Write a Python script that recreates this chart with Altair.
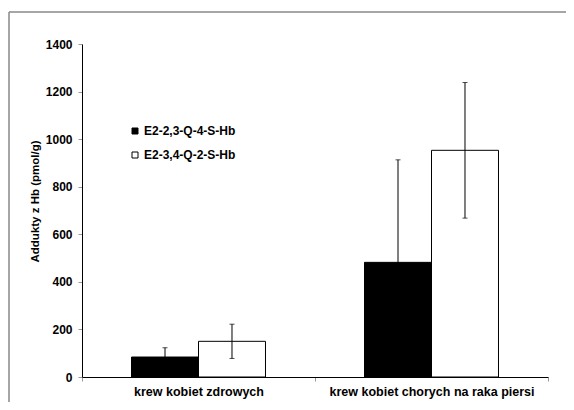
import altair as alt
import pandas as pd

categories = ["krew kobiet zdrowych", "krew kobiet chorych na raka piersi"]
series = ["E2-2,3-Q-4-S-Hb", "E2-3,4-Q-2-S-Hb"]
means_s1 = [84, 482]
means_s2 = [150, 953]
err_s1 = [39, 431]
err_s2 = [72, 285]
y_ticks = [0, 200, 400, 600, 800, 1000, 1200, 1400]

rows = []
for i, c in enumerate(categories):
    for s, m, e in ((series[0], means_s1[i], err_s1[i]), (series[1], means_s2[i], err_s2[i])):
        rows.append({"category": c, "series": s, "mean": m, "lo": m - e, "hi": m + e})
df = pd.DataFrame(rows)

FONT = "Liberation Sans"
W, H = 466, 333
PL, PT, PR, PB = 74, 36, 18, 25

x_enc = alt.X("category:N", sort=categories,
              scale=alt.Scale(paddingInner=0, paddingOuter=0),
              axis=alt.Axis(title=None, labelAngle=0, tickBand="extent", tickSize=4,
                            labelPadding=4, labelFontSize=12.5, labelFontWeight="bold",
                            labelFont=FONT, labelColor="black", domainColor="black",
                            tickColor="#999999", labelLimit=400))
xo_enc = alt.XOffset("series:N", sort=series,
                     scale=alt.Scale(paddingInner=0, paddingOuter=0.739))

base = alt.Chart(df).encode(x=x_enc, xOffset=xo_enc)

bars = base.mark_bar(stroke="black", strokeWidth=1).encode(
    y=alt.Y("mean:Q", scale=alt.Scale(domain=[0, 1400], nice=False),
            axis=alt.Axis(values=y_ticks, format="d", grid=False, tickSize=4, labelPadding=6,
                          labelFontSize=12, labelFontWeight="bold", labelFont=FONT,
                          labelColor="black", domainColor="black", tickColor="#999999",
                          title="Addukty z Hb (pmol/g)", titleFont=FONT, titleFontSize=11.5,
                          titleFontWeight="bold", titleColor="black", titleX=-47, titleY=157,
                          titleAngle=270, titleAlign="center", titleBaseline="middle")),
    color=alt.Color("series:N", sort=series,
                    scale=alt.Scale(domain=series, range=["black", "white"]),
                    legend=alt.Legend(title=None, orient="none", legendX=47, legendY=81,
                                      symbolType="square", symbolSize=36,
                                      symbolStrokeColor="black", symbolStrokeWidth=1,
                                      labelFont=FONT, labelFontSize=12, labelFontWeight="bold",
                                      labelColor="black", labelOffset=3, rowPadding=12)),
)

rules = base.mark_rule(color="black", strokeWidth=1).encode(y="lo:Q", y2="hi:Q")
cap_hi = base.mark_tick(orient="horizontal", size=5, thickness=1, color="black").encode(y="hi:Q")
cap_lo = base.mark_tick(orient="horizontal", size=5, thickness=1, color="black").encode(y="lo:Q")

frame_df = pd.DataFrame({"k": [0]})
frame_top = alt.Chart(frame_df).mark_rule(color="#888888", strokeWidth=1.5).encode(
    x=alt.value(-73), x2=alt.value(W + PR), y=alt.value(-32))
frame_left = alt.Chart(frame_df).mark_rule(color="#888888", strokeWidth=1.5).encode(
    x=alt.value(-73), y=alt.value(-32), y2=alt.value(H + PB))

chart = alt.layer(frame_top, frame_left, bars, rules, cap_hi, cap_lo).properties(
    width=W, height=H,
    autosize=alt.AutoSizeParams(type="none"),
    padding={"left": PL, "top": PT, "right": PR, "bottom": PB},
    background="white",
).configure_view(stroke=None)

chart.save("out.html", embed_options={"renderer": "svg", "actions": False})
